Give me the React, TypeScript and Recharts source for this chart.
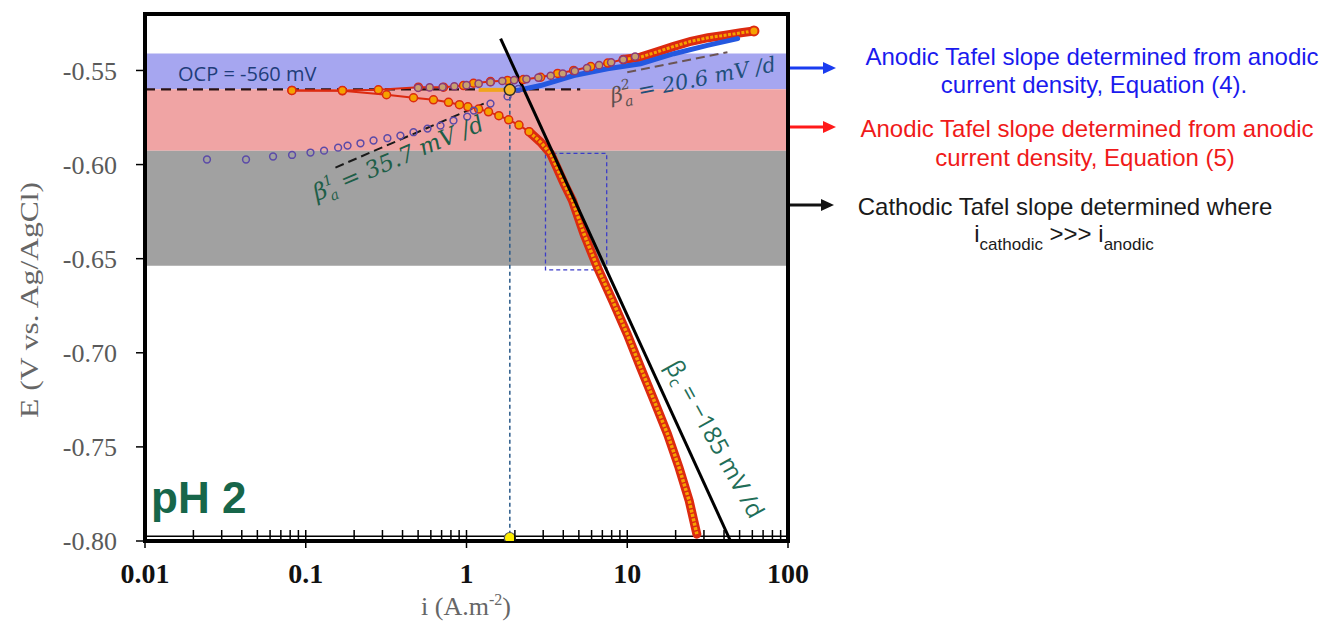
import React from 'react';
import { ComposedChart, Line, XAxis, YAxis, ReferenceArea, ReferenceLine } from 'recharts';

// axis ticks
const decades = [0.01, 0.1, 1, 10, 100];
const minorSteps = [2, 3, 4, 5, 6, 7, 8, 9];
const yTicks = [-0.8, -0.75, -0.7, -0.65, -0.6, -0.55];

// shaded regions (E, V)
const bandEq4 = [-0.56, -0.541];
const bandEq5 = [-0.5926, -0.56];
const bandCath = [-0.6537, -0.5926];

// measured polarization curve, [i (A/m2), E (V)]
const lowerBranch = [
  [0.082, -0.5606], [0.169, -0.5608], [0.318, -0.5629], [0.468, -0.5645], [0.623, -0.5656],
  [0.773, -0.5669], [0.904, -0.5682], [1.02, -0.5693], [1.19, -0.5705], [1.37, -0.572],
  [1.59, -0.574], [1.83, -0.5762], [2.12, -0.579], [2.45, -0.5825],
];
const lowerDense = [
  [2.45, -0.5825], [2.89, -0.5881], [3.34, -0.5943], [3.67, -0.602], [4.04, -0.61],
  [4.56, -0.6191], [5.38, -0.6369], [6.52, -0.6546], [8.1, -0.6723], [10.0, -0.6901],
  [12.1, -0.7078], [14.7, -0.7255], [17.8, -0.7432], [21.0, -0.761], [24.3, -0.7787], [27.1, -0.7964],
];
const upperBranch = [
  [0.082, -0.5606], [0.169, -0.5606], [0.283, -0.5603], [0.502, -0.5589], [0.719, -0.5589],
  [0.958, -0.558], [1.106, -0.5568], [1.41, -0.5559], [1.8, -0.5553], [2.26, -0.5548],
  [2.89, -0.5536], [3.69, -0.5516], [4.64, -0.55], [5.93, -0.5479], [7.57, -0.5461], [9.44, -0.5442],
];
const upperDense = [
  [9.44, -0.5442], [12.1, -0.5429], [15.5, -0.54], [19.5, -0.5372], [24.9, -0.5345],
  [31.8, -0.5326], [39.9, -0.5314], [50.9, -0.53], [61.4, -0.529],
];
const upperEnd = [[61.4, -0.529]];
// anodic current density points
const anodicUpper = [
  [0.5, -0.5592], [0.59, -0.559], [0.71, -0.5588], [0.84, -0.5584], [1.0, -0.5578],
  [1.19, -0.557], [1.41, -0.5562], [1.67, -0.5556], [1.98, -0.5551], [2.36, -0.5546],
  [2.8, -0.5538], [3.34, -0.5528], [3.97, -0.5516], [4.72, -0.5503], [5.62, -0.5487],
  [6.68, -0.5472], [7.94, -0.5457], [9.44, -0.5442], [11.2, -0.5426],
];
const anodicLower = [
  [0.0243, -0.5973], [0.0425, -0.5973], [0.0626, -0.5957], [0.0822, -0.5949], [0.107, -0.5936],
  [0.13, -0.5926], [0.159, -0.591], [0.182, -0.5899], [0.219, -0.5887], [0.264, -0.5872],
  [0.322, -0.586], [0.388, -0.5846], [0.468, -0.5828], [0.572, -0.5809], [0.689, -0.5793],
  [0.83, -0.5766], [1.01, -0.5745], [1.11, -0.5713], [1.41, -0.5676], [1.8, -0.5638], [2.1, -0.5598],
];
const anodicEq4 = [
  [2.07, -0.5606], [2.89, -0.558], [4.65, -0.5527], [7.53, -0.5491], [12.1, -0.5464],
  [19.5, -0.5411], [31.5, -0.5367], [48.6, -0.5331],
];
// fits and markers
const ocpLine = [[0.01, -0.56], [5.1, -0.56]];
const icorrBar = [[1.19, -0.5603], [1.86, -0.5603]];
const icorrDrop = [[1.86, -0.5603], [1.86, -0.7984]];
const cathodicFit = [[1.63, -0.5331], [43.9, -0.8]];
const tafelA1 = [[0.153, -0.6016], [1.28, -0.5676]];
const tafelA2 = [[10.0, -0.5509], [42.0, -0.5403]];
const corrPoint = [[1.86, -0.5603]];
const corrFoot = [[1.86, -0.7984]];
const zoomBox = { i: [3.1, 7.45], E: [-0.6559, -0.5941] };

const pts = (a: number[][]) => a.map(([i, E]) => ({ i, E }));

const xTicks = decades.flatMap((d, k) =>
  k < decades.length - 1 ? [d, ...minorSteps.map((m) => Number((d * m).toPrecision(2)))] : [d]
);

function XTick({ x, y, payload }: any) {
  const v = payload.value;
  const lg = Math.log10(v);
  const major = Math.abs(lg - Math.round(lg)) < 1e-6;
  return (
    <g>
      <line x1={x} x2={x} y1={y - 11} y2={major ? y + 7 : y} stroke="#000" strokeWidth={1.5} />
      {major && (
        <text x={x} y={y + 42} textAnchor="middle" fontFamily="Liberation Serif" fontWeight="bold" fontSize={28} fill="#111">
          {v}
        </text>
      )}
    </g>
  );
}

const redLine = '#dc2a10';
const orange = '#f5a200';
const purple = '#5b4aa8';

export default function App() {
  return (
    <div style={{ position: 'relative', width: 1328, height: 621, background: '#fff' }}>
      <style>{`body{margin:0}`}</style>
      <ComposedChart width={1328} height={621} margin={{ top: 14, right: 540, bottom: 0, left: 0 }}>
        <XAxis
          type="number"
          dataKey="i"
          scale="log"
          domain={[0.01, 100]}
          ticks={xTicks}
          interval={0}
          allowDataOverflow
          height={80}
          tickSize={0}
          tickMargin={0}
          tickLine={false}
          tick={<XTick />}
          axisLine={{ stroke: '#000', strokeWidth: 4 }}
        />
        <YAxis
          type="number"
          dataKey="E"
          domain={[-0.8, -0.52]}
          ticks={yTicks}
          interval={0}
          allowDataOverflow
          width={145}
          tickSize={9}
          tickMargin={19}
          tickFormatter={(v: number) => v.toFixed(2)}
          tick={{ fill: '#5a5a5a', fontSize: 26, fontFamily: 'Liberation Serif' }}
          tickLine={{ stroke: '#000', strokeWidth: 1.5 }}
          axisLine={{ stroke: '#000', strokeWidth: 4 }}
        />

        <ReferenceArea y1={bandEq4[0]} y2={bandEq4[1]} fill="#a6a6f0" fillOpacity={1} />
        <ReferenceArea y1={bandEq5[0]} y2={bandEq5[1]} fill="#f0a4a4" fillOpacity={1} />
        <ReferenceArea y1={bandCath[0]} y2={bandCath[1]} fill="#a1a1a1" fillOpacity={1} />
        <ReferenceLine y={-0.7975} stroke="#000" strokeWidth={1.5} />

        <Line data={pts(ocpLine)} dataKey="E" stroke="#2a1212" strokeWidth={2.2} strokeDasharray="10 6" dot={false} isAnimationActive={false} />
        <Line data={pts(tafelA1)} dataKey="E" stroke="#1a1a1a" strokeWidth={2} strokeDasharray="9 5" dot={false} isAnimationActive={false} />
        <Line data={pts(tafelA2)} dataKey="E" stroke="#6b5454" strokeWidth={2} strokeDasharray="9 5" dot={false} isAnimationActive={false} />

        <Line data={pts(lowerBranch)} dataKey="E" stroke={redLine} strokeWidth={2} dot={{ r: 4, fill: orange, stroke: redLine, strokeWidth: 1.5 }} isAnimationActive={false} />
        <Line data={pts(lowerDense)} dataKey="E" stroke={redLine} strokeWidth={9} strokeLinecap="round" dot={false} isAnimationActive={false} />
        <Line data={pts(lowerDense)} dataKey="E" stroke={orange} strokeWidth={3.5} strokeDasharray="3 1.5" dot={false} isAnimationActive={false} />

        <Line data={pts(upperBranch)} dataKey="E" stroke={redLine} strokeWidth={2} dot={{ r: 4, fill: orange, stroke: redLine, strokeWidth: 1.5 }} isAnimationActive={false} />
        <Line data={pts(upperDense)} dataKey="E" stroke={redLine} strokeWidth={9} strokeLinecap="round" dot={false} isAnimationActive={false} />
        <Line data={pts(upperDense)} dataKey="E" stroke={orange} strokeWidth={3} strokeDasharray="3 1.5" dot={false} isAnimationActive={false} />

        <Line data={pts(anodicUpper)} dataKey="E" stroke="none" dot={{ r: 3.6, fill: '#c8a070', stroke: '#8a3a78', strokeWidth: 1.5 }} isAnimationActive={false} />
        <Line data={pts(anodicLower)} dataKey="E" stroke="none" dot={{ r: 3.4, fill: 'none', stroke: purple, strokeWidth: 1.5 }} isAnimationActive={false} />
        <Line data={pts(anodicEq4)} dataKey="E" stroke="#2458e0" strokeWidth={5} strokeLinecap="round" dot={false} isAnimationActive={false} />
        <Line data={pts(upperEnd)} dataKey="E" stroke="none" dot={{ r: 4.5, fill: orange, stroke: redLine, strokeWidth: 2 }} isAnimationActive={false} />

        <Line data={pts(icorrBar)} dataKey="E" stroke="#f0a51c" strokeWidth={4} dot={false} isAnimationActive={false} />
        <Line data={pts(icorrDrop)} dataKey="E" stroke="#2a5a8a" strokeWidth={1.5} strokeDasharray="4 3" dot={false} isAnimationActive={false} />
        <Line data={pts(cathodicFit)} dataKey="E" stroke="#000" strokeWidth={3} dot={false} isAnimationActive={false} />

        <ReferenceArea
          x1={zoomBox.i[0]}
          x2={zoomBox.i[1]}
          y1={zoomBox.E[0]}
          y2={zoomBox.E[1]}
          fill="none"
          stroke="#3c3cc8"
          strokeWidth={1.3}
          strokeDasharray="4 3"
        />

        <Line data={pts(corrPoint)} dataKey="E" stroke="none" dot={{ r: 5.5, fill: '#f5b82a', stroke: '#2a2a2a', strokeWidth: 1.5 }} isAnimationActive={false} />

        <ReferenceArea x1={0.01} x2={100} y1={-0.8} y2={-0.52} fill="none" stroke="#000" strokeWidth={4} />
        <Line data={pts(corrFoot)} dataKey="E" stroke="none" dot={{ r: 5.5, fill: '#ffee00', stroke: '#555', strokeWidth: 1.2 }} isAnimationActive={false} />
      </ComposedChart>

      <svg width={1328} height={621} style={{ position: 'absolute', left: 0, top: 0, pointerEvents: 'none' }}>
        {/* axis titles */}
        <text transform="translate(38,300) rotate(-90)" textAnchor="middle" fontFamily="Liberation Serif" fontSize={26} fill="#666" textLength={236} lengthAdjust="spacingAndGlyphs">
          E (V vs. Ag/AgCl)
        </text>
        <text x={466} y={615} textAnchor="middle" fontFamily="Liberation Serif" fontSize={26} fill="#666">
          i (A.m<tspan fontSize={16} dy={-10}>-2</tspan>
          <tspan dy={10}>)</tspan>
        </text>

        {/* in-plot annotations */}
        <text x={178} y={81} fontFamily="Open Sans" fontSize={20} fill="#1f3d7a">OCP = -560 mV</text>
        <text transform="translate(317,201) rotate(-23)" fontFamily="DejaVu Serif" fontStyle="italic" fontSize={23} fill="#1e5e48">
          β<tspan fontSize={14} dy={-10}>1</tspan>
          <tspan fontSize={14} dx={-8} dy={16}>a</tspan>
          <tspan dy={-6}> = 35.7 mV /d</tspan>
        </text>
        <text transform="translate(612,103) rotate(-11)" fontFamily="DejaVu Serif" fontStyle="italic" fontSize={21} fill="#1f4f7a">
          <tspan fill="#5b5050">β</tspan>
          <tspan fill="#5b5050" fontSize={14} dy={-11}>2</tspan>
          <tspan fill="#5b5050" fontSize={14} dx={-8} dy={17}>a</tspan>
          <tspan dy={-6}> = 20.6 mV /d</tspan>
        </text>
        <text transform="translate(665,366) rotate(61)" fontFamily="Open Sans" fontSize={24} fill="#1f6e58">
          β<tspan fontSize={16} dy={5}>c</tspan>
          <tspan dy={-5}> = −185 mV /d</tspan>
        </text>
        <text x={151} y={513} fontFamily="Liberation Sans" fontWeight="bold" fontSize={44} fill="#17664a">pH 2</text>

        {/* right-hand notes */}
        <line x1={790} x2={824} y1={68} y2={68} stroke="#1a3cf0" strokeWidth={3} />
        <polygon points="836,68 823,62 823,74" fill="#1a3cf0" />
        <line x1={790} x2={824} y1={127} y2={127} stroke="#ff1a1a" strokeWidth={3} />
        <polygon points="836,127 823,121 823,133" fill="#ff1a1a" />
        <line x1={790} x2={822} y1={205} y2={205} stroke="#111" strokeWidth={3} />
        <polygon points="834,205 821,199 821,211" fill="#111" />

        <g fontFamily="Liberation Sans" fontSize={24} textAnchor="middle">
          <text x={1092} y={65} fill="#1a1aee">Anodic Tafel slope determined from anodic</text>
          <text x={1094} y={93} fill="#1a1aee">current density, Equation (4).</text>
          <text x={1087} y={137} fill="#f01a1a">Anodic Tafel slope determined from anodic</text>
          <text x={1085} y={166} fill="#f01a1a">current density, Equation (5)</text>
          <text x={1065} y={215} fill="#1a1a1a">Cathodic Tafel slope determined where</text>
          <text x={1064} y={242} fill="#1a1a1a">
            i<tspan fontSize={17} dy={8}>cathodic</tspan>
            <tspan dy={-8}>{' >>> i'}</tspan>
            <tspan fontSize={17} dy={8}>anodic</tspan>
          </text>
        </g>
      </svg>
    </div>
  );
}
